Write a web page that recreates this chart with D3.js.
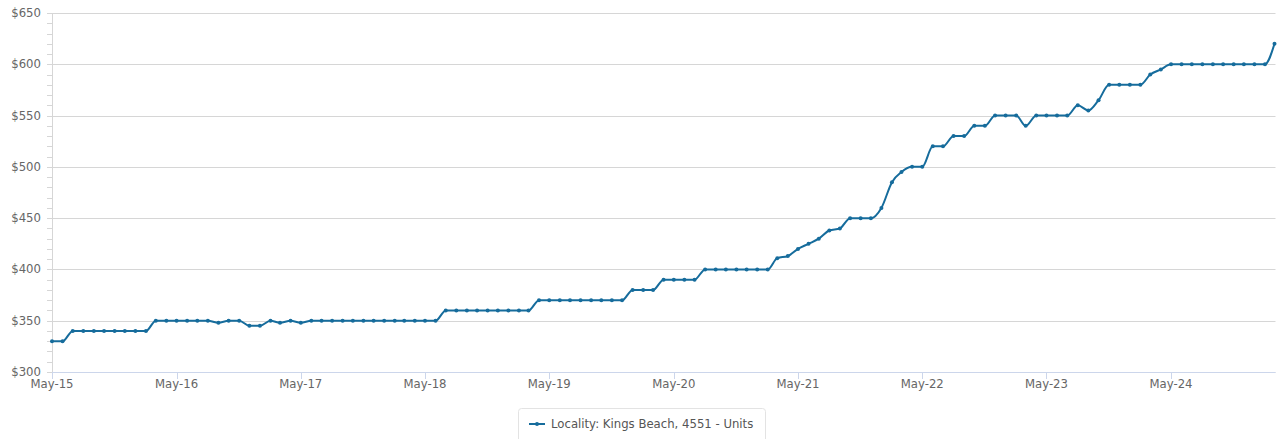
<!DOCTYPE html>
<html>
<head>
<meta charset="utf-8">
<script src="https://cdn.jsdelivr.net/npm/d3@7"></script>
<style>
  html, body { margin: 0; padding: 0; background: #fff; }
  svg { display: block; font-family: "DejaVu Sans", sans-serif; }
</style>
</head>
<body>
<svg id="chart" width="1280" height="439"></svg>
<script>
// Median weekly rent, units, Kings Beach 4551 — monthly from May 2015
const seriesName = "Locality: Kings Beach, 4551 - Units";
const firstMonth = new Date(2015, 4, 1);
const rents = [
  330, 330,
  340, 340, 340, 340, 340, 340, 340, 340,
  350, 350, 350, 350, 350, 350,
  348, 350, 350, 345, 345, 350, 348, 350, 348,
  350, 350, 350, 350, 350, 350, 350, 350, 350, 350, 350, 350, 350,
  360, 360, 360, 360, 360, 360, 360, 360, 360,
  370, 370, 370, 370, 370, 370, 370, 370, 370,
  380, 380, 380,
  390, 390, 390, 390,
  400, 400, 400, 400, 400, 400, 400,
  411, 413, 420, 425, 430, 438, 440,
  450, 450, 450, 460, 485, 495, 500, 500,
  520, 520, 530, 530, 540, 540,
  550, 550, 550, 540, 550, 550, 550, 550,
  560, 555, 565,
  580, 580, 580, 580, 590, 595,
  600, 600, 600, 600, 600, 600, 600, 600, 600, 600,
  620
];
const yTicks = [300, 350, 400, 450, 500, 550, 600, 650];
const xTickYears = [2015, 2016, 2017, 2018, 2019, 2020, 2021, 2022, 2023, 2024];

const months = d3.timeMonth.range(firstMonth, d3.timeMonth.offset(firstMonth, rents.length));
const data = months.map((m, i) => ({ date: m, value: rents[i] }));

const svg = d3.select("#chart");
const plot = { left: 52, right: 1274.5, top: 13, bottom: 372 };
const lineColor = "#166c9c";
const fontSize = 11.7;

const x = d3.scaleTime()
  .domain([months[0], months[months.length - 1]])
  .range([plot.left, plot.right]);
const y = d3.scaleLinear()
  .domain([300, 650])
  .range([plot.bottom, plot.top]);

// horizontal grid
svg.append("g")
  .selectAll("line")
  .data(yTicks)
  .join("line")
  .attr("x1", plot.left)
  .attr("x2", plot.right + 1)
  .attr("y1", d => Math.round(y(d)) + 0.5)
  .attr("y2", d => Math.round(y(d)) + 0.5)
  .attr("stroke", "#d6d6d6")
  .attr("stroke-width", 1);

// y axis: line, minor ticks every $10, labels
const yAxisG = svg.append("g");
yAxisG.append("line")
  .attr("x1", plot.left + 0.5).attr("x2", plot.left + 0.5)
  .attr("y1", plot.top).attr("y2", plot.bottom)
  .attr("stroke", "#d6d6d6");
yAxisG.selectAll("line.minor")
  .data(d3.range(300, 651, 10))
  .join("line")
  .attr("class", "minor")
  .attr("x1", plot.left - 5).attr("x2", plot.left)
  .attr("y1", d => Math.round(y(d)) + 0.5)
  .attr("y2", d => Math.round(y(d)) + 0.5)
  .attr("stroke", "#d6d6d6");
yAxisG.selectAll("text")
  .data(yTicks)
  .join("text")
  .attr("x", 41)
  .attr("y", d => y(d) + 4)
  .attr("text-anchor", "end")
  .attr("font-size", fontSize)
  .attr("fill", "#666")
  .text(d => "$" + d);

// x axis
const xTicks = xTickYears.map(yr => new Date(yr, 4, 1));
const xAxisG = svg.append("g");
xAxisG.append("line")
  .attr("x1", plot.left).attr("x2", plot.right + 1)
  .attr("y1", plot.bottom + 0.5).attr("y2", plot.bottom + 0.5)
  .attr("stroke", "#ccd6eb");
xAxisG.selectAll("line.tick")
  .data(xTicks)
  .join("line")
  .attr("class", "tick")
  .attr("x1", d => Math.round(x(d)) + 0.5)
  .attr("x2", d => Math.round(x(d)) + 0.5)
  .attr("y1", plot.bottom)
  .attr("y2", plot.bottom + 7)
  .attr("stroke", "#ccd6eb");
const fmt = d3.timeFormat("%b-%y");
xAxisG.selectAll("text")
  .data(xTicks)
  .join("text")
  .attr("x", d => x(d))
  .attr("y", 388)
  .attr("text-anchor", "middle")
  .attr("font-size", fontSize)
  .attr("fill", "#666")
  .text(d => fmt(d));

// series line + markers
const line = d3.line()
  .x(d => x(d.date))
  .y(d => y(d.value))
  .curve(d3.curveMonotoneX);
svg.append("path")
  .datum(data)
  .attr("d", line)
  .attr("fill", "none")
  .attr("stroke", lineColor)
  .attr("stroke-width", 2)
  .attr("stroke-linejoin", "round");
svg.append("g")
  .selectAll("circle")
  .data(data)
  .join("circle")
  .attr("cx", d => x(d.date))
  .attr("cy", d => y(d.value))
  .attr("r", 2)
  .attr("fill", lineColor);

// legend
const legend = svg.append("g");
legend.append("rect")
  .attr("x", 518.5).attr("y", 408.5)
  .attr("width", 247).attr("height", 40)
  .attr("rx", 3)
  .attr("fill", "#fff")
  .attr("stroke", "#e3e3e3");
legend.append("line")
  .attr("x1", 529).attr("x2", 545)
  .attr("y1", 424).attr("y2", 424)
  .attr("stroke", lineColor).attr("stroke-width", 2);
legend.append("circle")
  .attr("cx", 537).attr("cy", 424).attr("r", 2)
  .attr("fill", lineColor);
legend.append("text")
  .attr("x", 551).attr("y", 428)
  .attr("font-size", fontSize)
  .attr("fill", "#555")
  .text(seriesName);
</script>
</body>
</html>
